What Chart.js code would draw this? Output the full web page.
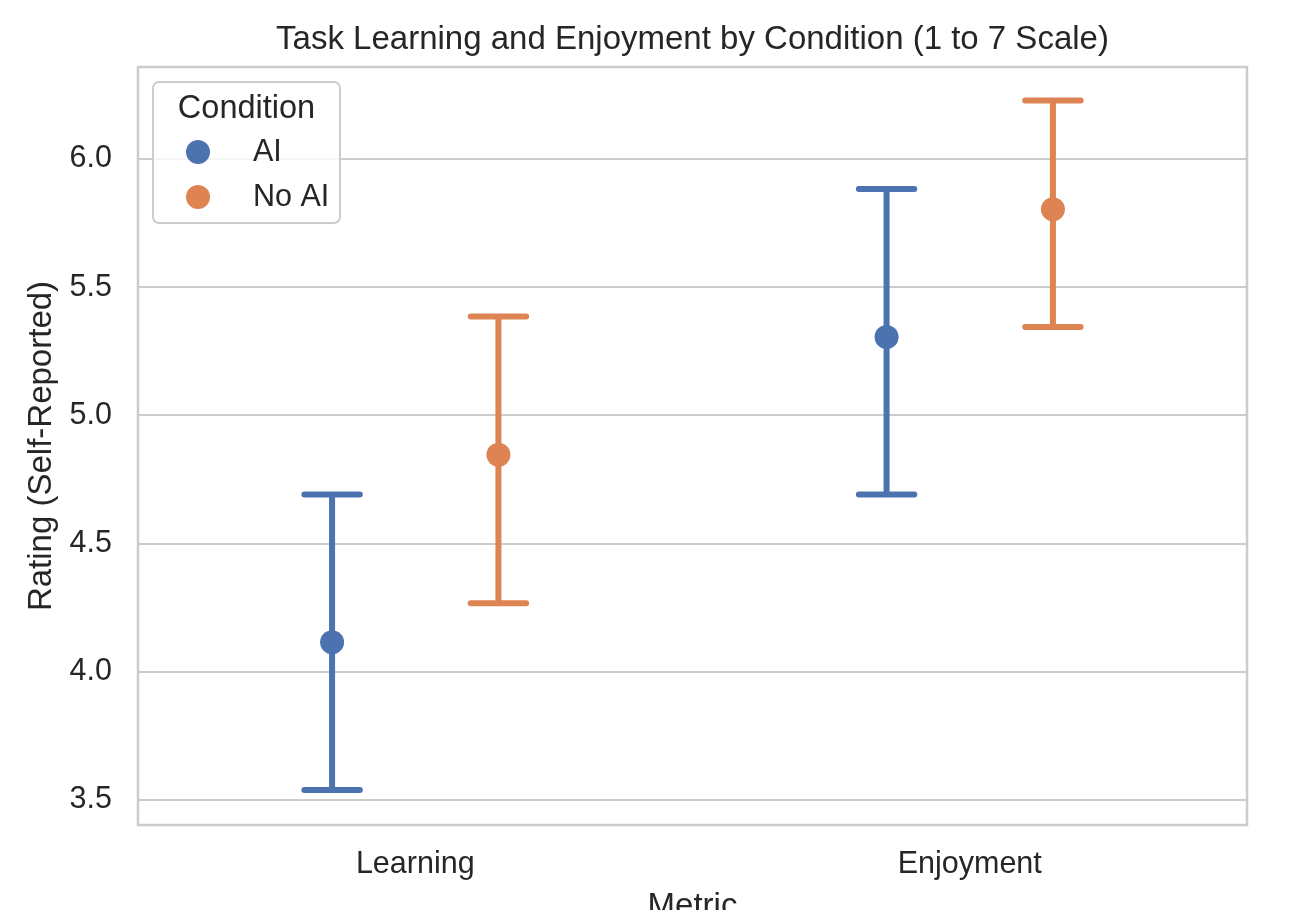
<!DOCTYPE html>
<html>
<head>
<meta charset="utf-8">
<script src="https://cdn.jsdelivr.net/npm/chart.js@4/dist/chart.umd.min.js"></script>
<style>
  html, body { margin: 0; padding: 0; background: #ffffff; }
  #wrap { width: 1307px; height: 910px; position: relative; }
</style>
</head>
<body>
<div id="wrap"><canvas id="c" width="1307" height="910"></canvas></div>
<script>
const categories = ['Learning', 'Enjoyment'];
const seriesNames = ['AI', 'No AI'];
const seriesColors = ['#4C72B0', '#DD8452'];
const aiMean  = [4.115, 5.306];
const aiLow   = [3.539, 4.691];
const aiHigh  = [4.691, 5.883];
const noAiMean = [4.846, 5.804];
const noAiLow  = [4.267, 5.345];
const noAiHigh = [5.386, 6.228];
const yTicks = [3.5, 4.0, 4.5, 5.0, 5.5, 6.0];
const dodge = [-0.15, 0.15];
const capHalf = 0.05;

const seriesData = [
  {mean: aiMean, low: aiLow, high: aiHigh},
  {mean: noAiMean, low: noAiLow, high: noAiHigh}
];

const FONT = "'Liberation Sans', Arial, sans-serif";
const TEXT = '#262626';
const TICK_SIZE = 30.5;
const LABEL_SIZE = 33;

const datasets = seriesData.map((s, si) => ({
  label: seriesNames[si],
  data: categories.map((c, ci) => ({x: ci + dodge[si], y: s.mean[ci], low: s.low[ci], high: s.high[ci]})),
  backgroundColor: seriesColors[si],
  borderColor: seriesColors[si],
  pointRadius: 12,
  pointBorderWidth: 0,
  showLine: false
}));

const errorBars = {
  id: 'errorBars',
  beforeDatasetsDraw(chart) {
    const {ctx, scales: {x, y}} = chart;
    ctx.save();
    ctx.lineWidth = 6;
    ctx.lineCap = 'round';
    chart.data.datasets.forEach(ds => {
      ctx.strokeStyle = ds.borderColor;
      ds.data.forEach(p => {
        const px = x.getPixelForValue(p.x);
        const pl = x.getPixelForValue(p.x - capHalf);
        const pr = x.getPixelForValue(p.x + capHalf);
        const yl = y.getPixelForValue(p.low);
        const yh = y.getPixelForValue(p.high);
        ctx.beginPath();
        ctx.moveTo(px, yl); ctx.lineTo(px, yh);
        ctx.moveTo(pl, yl); ctx.lineTo(pr, yl);
        ctx.moveTo(pl, yh); ctx.lineTo(pr, yh);
        ctx.stroke();
      });
    });
    ctx.restore();
  }
};

function roundRect(ctx, x, y, w, h, r) {
  ctx.beginPath();
  ctx.moveTo(x + r, y);
  ctx.lineTo(x + w - r, y);
  ctx.arcTo(x + w, y, x + w, y + r, r);
  ctx.lineTo(x + w, y + h - r);
  ctx.arcTo(x + w, y + h, x + w - r, y + h, r);
  ctx.lineTo(x + r, y + h);
  ctx.arcTo(x, y + h, x, y + h - r, r);
  ctx.lineTo(x, y + r);
  ctx.arcTo(x, y, x + r, y, r);
  ctx.closePath();
}

const frameAndLegend = {
  id: 'frameAndLegend',
  beforeDatasetsDraw(chart) {
    const {ctx, chartArea: a} = chart;
    ctx.save();
    ctx.strokeStyle = '#cccccc';
    ctx.lineWidth = 2.5;
    ctx.strokeRect(a.left, a.top, a.right - a.left, a.bottom - a.top);
    ctx.restore();
  },
  afterDatasetsDraw(chart) {
    const {ctx, chartArea: a} = chart;
    ctx.save();
    const lx = a.left + 15, ly = a.top + 15, lw = 187, lh = 141;
    ctx.globalAlpha = 0.8;
    ctx.fillStyle = '#ffffff';
    roundRect(ctx, lx, ly, lw, lh, 6);
    ctx.fill();
    ctx.globalAlpha = 1;
    ctx.strokeStyle = '#cccccc';
    ctx.lineWidth = 2;
    ctx.stroke();
    ctx.fillStyle = TEXT;
    ctx.font = '32.5px ' + FONT;
    ctx.textBaseline = 'middle';
    ctx.textAlign = 'center';
    ctx.fillText('Condition', lx + lw / 2, ly + 27);
    ctx.textAlign = 'left';
    ctx.font = TICK_SIZE + 'px ' + FONT;
    chart.data.datasets.forEach((ds, i) => {
      const cy = ly + 70 + i * 45;
      ctx.fillStyle = ds.backgroundColor;
      ctx.beginPath();
      ctx.arc(lx + 45, cy, 12, 0, Math.PI * 2);
      ctx.fill();
      ctx.fillStyle = TEXT;
      ctx.fillText(ds.label, lx + 100, cy + 1);
    });
    ctx.restore();
  }
};

new Chart(document.getElementById('c'), {
  type: 'scatter',
  data: { datasets },
  plugins: [errorBars, frameAndLegend],
  options: {
    responsive: false,
    animation: false,
    layout: { padding: { left: 0, right: 60, top: 0, bottom: 0 } },
    plugins: {
      legend: { display: false },
      tooltip: { enabled: false },
      title: {
        display: true,
        fullSize: false,
        text: 'Task Learning and Enjoyment by Condition (1 to 7 Scale)',
        color: TEXT,
        font: { family: FONT, size: LABEL_SIZE, weight: 'normal' },
        padding: { top: 20, bottom: 7.4 }
      }
    },
    scales: {
      x: {
        type: 'linear',
        min: -0.5, max: 1.5,
        afterBuildTicks(scale) { scale.ticks = categories.map((c, i) => ({value: i})); },
        afterFit(scale) { scale.height = 85; },
        grid: { display: false, drawTicks: false },
        border: { display: false },
        ticks: {
          color: TEXT,
          font: { family: FONT, size: TICK_SIZE },
          padding: 21,
          maxRotation: 0,
          autoSkip: false,
          callback: (v) => categories[Math.round(v)] ?? ''
        },
        title: {
          display: true, text: 'Metric', color: TEXT,
          font: { family: FONT, size: LABEL_SIZE },
          padding: { top: 0, bottom: -17 }
        }
      },
      y: {
        min: 3.402, max: 6.359,
        afterBuildTicks(scale) { scale.ticks = yTicks.map(v => ({value: v})); },
        afterFit(scale) { scale.width = 138; },
        grid: { color: '#cccccc', lineWidth: 2, drawTicks: false },
        border: { display: false },
        ticks: {
          color: TEXT,
          font: { family: FONT, size: TICK_SIZE },
          padding: 26,
          callback: (v) => v.toFixed(1)
        },
        title: {
          display: true, text: 'Rating (Self-Reported)', color: TEXT,
          font: { family: FONT, size: LABEL_SIZE },
          padding: { top: 22, bottom: 0 }
        }
      }
    }
  }
});
</script>
</body>
</html>
